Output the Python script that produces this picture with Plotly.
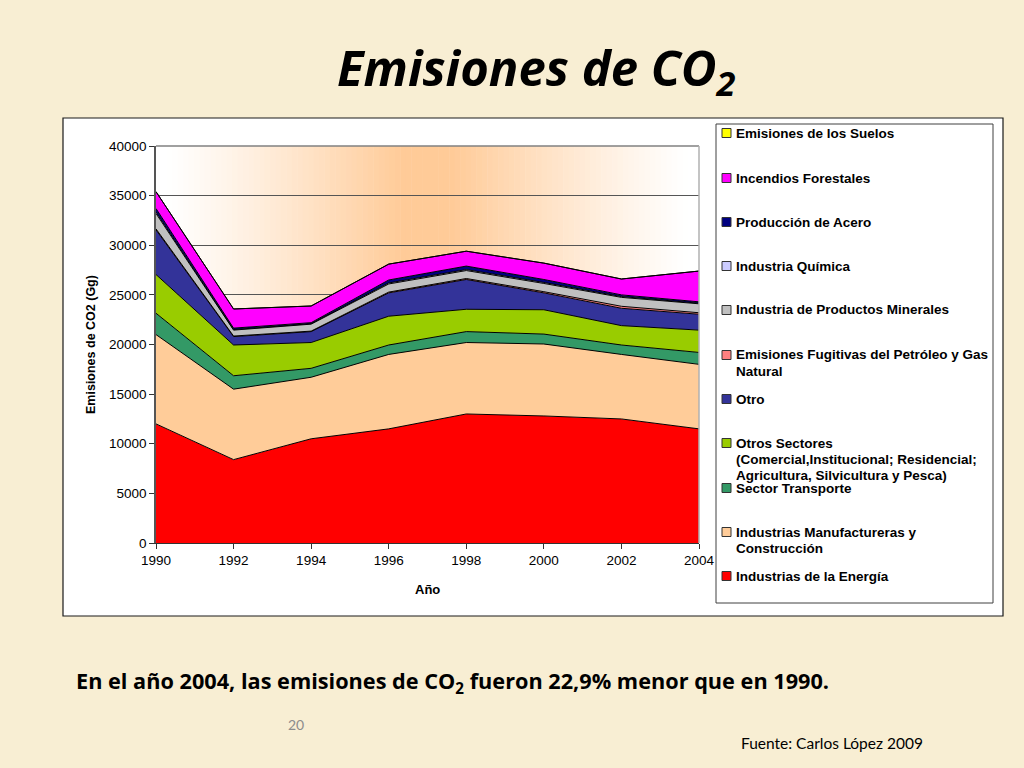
import plotly.graph_objects as go

# ---------------- data ----------------
years = [1990, 1992, 1994, 1996, 1998, 2000, 2002, 2004]

energia = [12000, 8400, 10500, 11500, 13000, 12800, 12500, 11500]
manufactureras = [9000, 7100, 6200, 7500, 7200, 7250, 6500, 6500]
transporte = [2150, 1350, 900, 950, 1100, 1000, 950, 1200]
otros_sectores = [3900, 3100, 2600, 2900, 2250, 2450, 1950, 2250]
otro = [4500, 850, 1100, 2350, 3000, 1700, 1750, 1600]
fugitivas = [100, 50, 50, 80, 100, 120, 200, 150]
minerales = [1550, 600, 700, 820, 800, 830, 900, 900]
quimica = [150, 50, 50, 100, 100, 100, 80, 60]
acero = [350, 150, 100, 300, 350, 300, 170, 140]
incendios = [1700, 1930, 1680, 1600, 1500, 1650, 1600, 3100]
suelos = [0, 0, 0, 0, 0, 0, 0, 0]

series_names = [
    "Industrias de la Energía",
    "Industrias Manufactureras y<br>Construcción",
    "Sector Transporte",
    "Otros Sectores<br>(Comercial,Institucional; Residencial;<br>Agricultura, Silvicultura y Pesca)",
    "Otro",
    "Emisiones Fugitivas del Petróleo y Gas<br>Natural",
    "Industria de Productos Minerales",
    "Industria Química",
    "Producción de Acero",
    "Incendios Forestales",
    "Emisiones de los Suelos",
]
series_values = [energia, manufactureras, transporte, otros_sectores, otro,
                 fugitivas, minerales, quimica, acero, incendios, suelos]
series_colors = ["#FF0000", "#FFCC99", "#339966", "#99CC00", "#333399",
                 "#FF8080", "#C0C0C0", "#CCCCFF", "#000080", "#FF00FF", "#FFFF00"]

y_ticks = [0, 5000, 10000, 15000, 20000, 25000, 30000, 35000, 40000]
y_tick_labels = ["0", "5000", "10000", "15000", "20000", "25000", "30000", "35000", "40000"]
x_ticks = years
x_tick_labels = ["1990", "1992", "1994", "1996", "1998", "2000", "2002", "2004"]

title_text = "<b><i>Emisiones de CO<sub>2</sub></i></b>"
note_text = "<b>En el año 2004, las emisiones de CO<sub>2</sub> fueron 22,9% menor que en 1990.</b>"
source_text = "Fuente: Carlos López 2009"
page_text = "20"
y_title = "Emisiones de CO2 (Gg)"
x_title = "Año"

# ---------------- layout helpers (pixel -> paper) ----------------
W, H = 1024, 768
def px(x):
    return x / W
def py(y):
    return 1 - y / H

PL, PR, PT, PB = 156, 699, 146, 543  # plot area in pixels
ARIAL = "Liberation Sans, Arial"

fig = go.Figure()

for name, vals, col in zip(series_names, series_values, series_colors):
    fig.add_trace(go.Scatter(
        x=years, y=vals, name=name, mode="lines",
        stackgroup="one", fillcolor=col,
        line=dict(color="#000000", width=1),
        showlegend=False, hoverinfo="x+y+name",
    ))

shapes = []
# white chart frame
shapes.append(dict(type="rect", xref="paper", yref="paper",
                   x0=px(63), x1=px(1003), y0=py(616), y1=py(118),
                   fillcolor="white", line=dict(color="#1a1a1a", width=1.2),
                   layer="below"))
# gradient plot background
N = 100
peach = (255, 203, 152)
for i in range(N):
    a = PL + (PR - PL) * i / N
    b = PL + (PR - PL) * (i + 1) / N
    m = (a + b) / 2
    t = 1 - abs(m - (PL + PR) / 2) / ((PR - PL) / 2)
    t = max(0.0, min(1.0, (t - 0.04) * 1.15))
    f = t ** 1.15
    c = tuple(int(round(255 + (p - 255) * f)) for p in peach)
    shapes.append(dict(type="rect", xref="paper", yref="paper",
                       x0=px(a), x1=px(b) + 0.0005, y0=py(PB), y1=py(PT),
                       fillcolor="rgb(%d,%d,%d)" % c, line=dict(width=0),
                       layer="below"))
# plot border (top / right)
shapes.append(dict(type="line", xref="paper", yref="paper",
                   x0=px(PL), x1=px(PR), y0=py(PT), y1=py(PT),
                   line=dict(color="#808080", width=1.5), layer="above"))
shapes.append(dict(type="line", xref="paper", yref="paper",
                   x0=px(PR), x1=px(PR), y0=py(PB), y1=py(PT),
                   line=dict(color="#B0B0B0", width=1.5), layer="above"))

# legend box
LX0, LX1, LY0, LY1 = 716, 993, 124, 603
shapes.append(dict(type="rect", xref="paper", yref="paper",
                   x0=px(LX0), x1=px(LX1), y0=py(LY1), y1=py(LY0),
                   fillcolor="white", line=dict(color="#404040", width=1),
                   layer="below"))

annotations = []
legend_rows = [133, 178, 222, 266, 310, 355, 399, 443, 488, 532, 576]
order = list(range(len(series_names)))[::-1]
for row_y, idx in zip(legend_rows, order):
    shapes.append(dict(type="rect", xref="paper", yref="paper",
                       x0=px(722), x1=px(731), y0=py(row_y + 4.5), y1=py(row_y - 4.5),
                       fillcolor=series_colors[idx], line=dict(color="#333333", width=1)))
    for k, line_txt in enumerate(series_names[idx].split("<br>")):
        annotations.append(dict(text="<b>" + line_txt + "</b>",
                                xref="paper", yref="paper", x=px(734), y=py(row_y + 16 * k),
                                xanchor="left", yanchor="middle", align="left", showarrow=False,
                                font=dict(family=ARIAL, size=13.5, color="black")))

annotations.append(dict(text=title_text, xref="paper", yref="paper",
                        x=px(536), y=py(70), xanchor="center", yanchor="middle",
                        showarrow=False,
                        font=dict(family="Open Sans", size=49, color="black")))
annotations.append(dict(text=note_text, xref="paper", yref="paper",
                        x=px(74), y=py(682), xanchor="left", yanchor="middle",
                        showarrow=False,
                        font=dict(family="Open Sans", size=21.7, color="black")))
annotations.append(dict(text=source_text, xref="paper", yref="paper",
                        x=px(925), y=py(743), xanchor="right", yanchor="middle",
                        showarrow=False,
                        font=dict(family="Lato", size=15.5, color="black")))
annotations.append(dict(text=page_text, xref="paper", yref="paper",
                        x=px(296), y=py(724), xanchor="center", yanchor="middle",
                        showarrow=False,
                        font=dict(family="Lato", size=14, color="#8C8C8C")))
# axis titles
annotations.append(dict(text="<b>" + x_title + "</b>", xref="paper", yref="paper",
                        x=px(427), y=py(589), xanchor="center", yanchor="middle",
                        showarrow=False, font=dict(family=ARIAL, size=13, color="black")))
annotations.append(dict(text="<b>" + y_title + "</b>", xref="paper", yref="paper",
                        x=px(91), y=py(345), xanchor="center", yanchor="middle",
                        textangle=-90, showarrow=False,
                        font=dict(family=ARIAL, size=12.5, color="black")))

fig.update_layout(
    width=W, height=H, autosize=False,
    margin=dict(l=0, r=0, t=0, b=0, pad=0),
    paper_bgcolor="#F8EED3",
    plot_bgcolor="rgba(0,0,0,0)",
    shapes=shapes,
    annotations=annotations,
    xaxis=dict(domain=[px(PL), px(PR)], range=[1990, 2004], tickvals=x_ticks,
               ticktext=x_tick_labels, showgrid=False, zeroline=False,
               ticks="outside", ticklen=5, tickcolor="#333333", automargin=False,
               showline=True, linecolor="#333333", linewidth=1,
               tickfont=dict(family=ARIAL, size=13.5, color="black")),
    yaxis=dict(domain=[1 - PB / H, 1 - PT / H], range=[0, 40000], tickvals=y_ticks,
               ticktext=y_tick_labels,
               showgrid=True, gridcolor="#555555", gridwidth=1, zeroline=False,
               ticks="outside", ticklen=5, tickcolor="#333333", automargin=False,
               showline=True, linecolor="#555555", linewidth=1.5,
               tickfont=dict(family=ARIAL, size=13.5, color="black")),
    font=dict(family=ARIAL),
)

fig.write_html("out.html", config={"responsive": False, "displayModeBar": False},
               post_script="document.body.style.margin='0';document.body.style.overflow='hidden';")
